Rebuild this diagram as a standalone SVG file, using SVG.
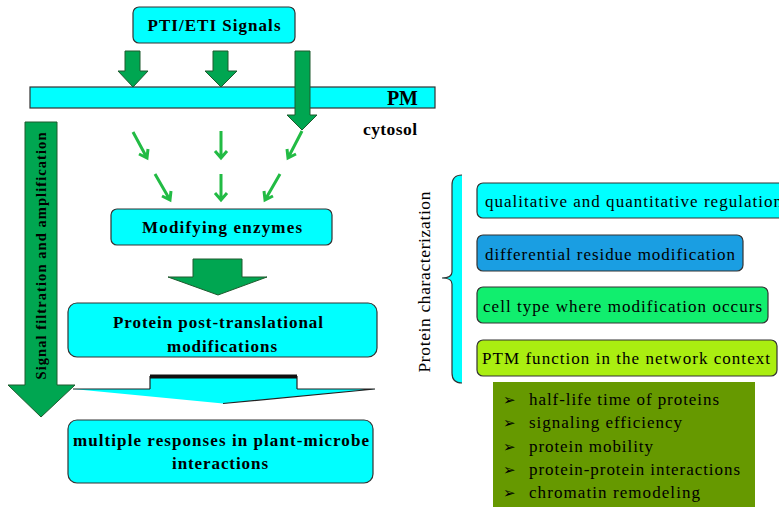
<svg xmlns="http://www.w3.org/2000/svg" width="779" height="507" viewBox="0 0 779 507">
<defs>
<style>
.cy{fill:#00ffff;stroke:#333;stroke-width:1.2}
.ga{fill:#00a651;stroke:#1e5a2e;stroke-width:1}
.thin{fill:none;stroke:#22bb44;stroke-width:3}
</style>
</defs>
<rect width="779" height="507" fill="#fff"/>

<g id="signals">
<rect class="cy" x="133" y="7" width="162" height="36" rx="6"/>
<text x="214" y="31" font-size="17" font-weight="bold" text-anchor="middle" font-family="Liberation Serif" textLength="133">PTI/ETI Signals</text>
</g>

<g id="pm">
<rect class="cy" x="30" y="87" width="405" height="21"/>
<text x="418" y="105" font-size="20" font-weight="bold" text-anchor="end" font-family="Liberation Serif">PM</text>
</g>

<g id="connectors">
<path class="ga" d="M125,51 H140 V71 H148 L133,87 L118,71 H125 Z"/>
<path class="ga" d="M213,51 H228 V71 H237 L221,87 L205,71 H213 Z"/>
<path class="ga" d="M295,51 H310 V115 H317 L302,130 L287,115 H295 Z"/>
<path class="thin" d="M133,132 L147,158 M139,154 L147,158 L148,149"/>
<path class="thin" d="M221,131 V158 M215,151 L221,158 L227,151"/>
<path class="thin" d="M302,131 L288,158 M287,149 L288,158 L296,154"/>
<path class="thin" d="M155,174 L170,200 M162,196 L170,200 L171,191"/>
<path class="thin" d="M221,174 V200 M215,193 L221,200 L227,193"/>
<path class="thin" d="M280,174 L265,200 M264,191 L265,200 L273,196"/>
<path class="ga" d="M193,259 H242 V277 H267 L218,295 L168,277 H193 Z"/>
<path d="M150,376.5 H297 V389 H375 L223,403.5 L73,389 H150 Z" fill="#00ffff" stroke="none"/>
<path d="M150,389 V376.5 H297 V389 M297,389 H375 L223,403.5 M73,389 H150" fill="none" stroke="#222" stroke-width="1.2"/>
<rect x="150" y="374.5" width="147" height="4" fill="#111"/>
</g>

<g id="cytosol">
<text x="363" y="135" font-size="17.5" font-weight="bold" font-family="Liberation Serif" textLength="54">cytosol</text>
</g>

<g id="signal-filtration">
<path class="ga" d="M25,122 H57 V385 H75 L41,417 L8,385 H25 Z"/>
<text transform="translate(46,256) rotate(-90)" font-size="14.5" font-weight="bold" text-anchor="middle" font-family="Liberation Serif" textLength="247">Signal filtration and amplification</text>
</g>

<g id="modifying">
<rect class="cy" x="111" y="209" width="221" height="36" rx="6"/>
<text x="222" y="233" font-size="17" font-weight="bold" text-anchor="middle" font-family="Liberation Serif" textLength="160">Modifying enzymes</text>
</g>

<g id="ptm">
<rect class="cy" x="68" y="303" width="309" height="54" rx="9"/>
<text x="218" y="328" font-size="17" font-weight="bold" text-anchor="middle" font-family="Liberation Serif" textLength="210">Protein post-translational</text>
<text x="222" y="352" font-size="17" font-weight="bold" text-anchor="middle" font-family="Liberation Serif" textLength="110">modifications</text>
</g>

<g id="responses">
<rect class="cy" x="68" y="420" width="305" height="63" rx="9"/>
<text x="221" y="446" font-size="17" font-weight="bold" text-anchor="middle" font-family="Liberation Serif" textLength="296">multiple responses in plant-microbe</text>
<text x="220" y="469" font-size="17" font-weight="bold" text-anchor="middle" font-family="Liberation Serif" textLength="96">interactions</text>
</g>

<g id="protein-characterization">
<path d="M462,175 Q452,175 452,185 L452,272 Q452,278 442,278 Q452,278 452,284 L452,373 Q452,383 462,383 Z" fill="#00ffff" stroke="none"/>
<path d="M462,175 Q452,175 452,185 L452,272 Q452,278 442,278 Q452,278 452,284 L452,373 Q452,383 462,383" fill="none" stroke="#333" stroke-width="1.2"/>
<text transform="translate(430,282) rotate(-90)" text-anchor="middle" font-size="17.5" font-family="Liberation Serif" textLength="181">Protein characterization</text>
</g>

<g id="qualitative">
<rect x="477" y="183" width="320" height="35" rx="6" fill="#00ffff" stroke="#333" stroke-width="1.2"/>
<text x="485" y="207" font-size="17" font-family="Liberation Serif" textLength="297">qualitative and quantitative regulation</text>
</g>

<g id="differential">
<rect x="477" y="235" width="266" height="36" rx="6" fill="#1a9ee2" stroke="#333" stroke-width="1.2"/>
<text x="485" y="260" font-size="17" font-family="Liberation Serif" textLength="250">differential residue modification</text>
</g>

<g id="celltype">
<rect x="477" y="287" width="291" height="36" rx="6" fill="#11ee6e" stroke="#333" stroke-width="1.2"/>
<text x="483" y="312" font-size="17" font-family="Liberation Serif" textLength="279">cell type where modification occurs</text>
</g>

<g id="ptmfunction">
<rect x="477" y="340" width="300" height="36" rx="6" fill="#aaee11" stroke="#333" stroke-width="1.2"/>
<text x="482" y="364" font-size="17" font-family="Liberation Serif" textLength="288">PTM function in the network context</text>
</g>

<g id="functions">
<rect x="493" y="382" width="262" height="130" fill="#669900"/>
<text x="503" y="405" font-size="15" font-family="DejaVu Sans">&#x27A2;</text>
<text x="503" y="428" font-size="15" font-family="DejaVu Sans">&#x27A2;</text>
<text x="503" y="452" font-size="15" font-family="DejaVu Sans">&#x27A2;</text>
<text x="503" y="475" font-size="15" font-family="DejaVu Sans">&#x27A2;</text>
<text x="503" y="498" font-size="15" font-family="DejaVu Sans">&#x27A2;</text>
<text x="529" y="405" font-size="17" font-family="Liberation Serif" textLength="190">half-life time of proteins</text>
<text x="529" y="428" font-size="17" font-family="Liberation Serif" textLength="153">signaling efficiency</text>
<text x="529" y="452" font-size="17" font-family="Liberation Serif" textLength="124">protein mobility</text>
<text x="529" y="475" font-size="17" font-family="Liberation Serif" textLength="211">protein-protein interactions</text>
<text x="529" y="498" font-size="17" font-family="Liberation Serif" textLength="171">chromatin remodeling</text>
</g>
</svg>
